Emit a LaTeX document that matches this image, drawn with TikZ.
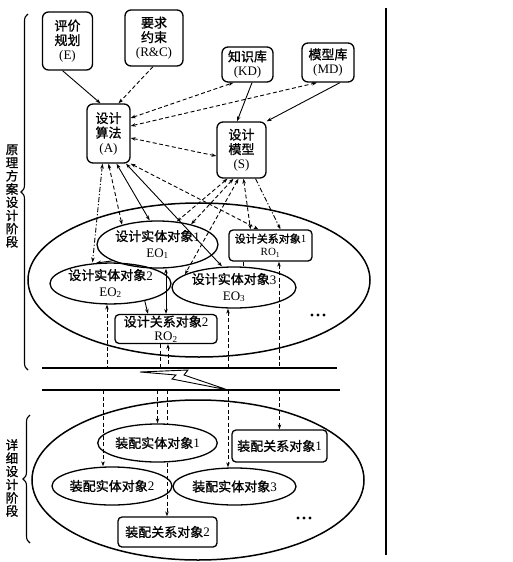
\documentclass[tikz,border=0pt]{standalone}
\usepackage{fontspec}
\setmainfont{Liberation Serif}
\newfontfamily\cjk[FakeBold=1.2]{Noto Sans CJK SC}
\newcommand\zh[1]{{\cjk #1}}
\usetikzlibrary{shapes.geometric,arrows.meta,decorations.pathreplacing}
\tikzset{
 box/.style={draw, line width=1.3pt, rounded corners=6pt, align=center, inner sep=1pt, font=\fontsize{13}{14.5}\selectfont},
 rbox/.style={draw, line width=1.3pt, rounded corners=4pt, align=center, inner sep=1pt, font=\fontsize{13}{14}\selectfont},
 eobj/.style={draw, ellipse, line width=1.3pt, inner sep=0pt, align=center, font=\fontsize{13}{16}\selectfont},
 big/.style={draw, ellipse, line width=1.5pt, inner sep=0pt},
 con/.style={line width=0.9pt},
 dsh/.style={con, dash pattern=on 4pt off 2.5pt},
 ddot/.style={con, dash pattern=on 5pt off 2pt on 1.2pt off 2pt},
 aend/.style={-{Stealth[length=5pt,width=3.5pt]}},
 aboth/.style={{Stealth[length=5pt,width=3.5pt]}-{Stealth[length=5pt,width=3.5pt]}},
 astart/.style={{Stealth[length=5pt,width=3.5pt]}-},
 vlab/.style={align=center, inner sep=0pt, font=\cjk\fontsize{12.5}{13.2}\selectfont},
 hline/.style={line width=1.6pt},
}
\begin{document}
\begin{tikzpicture}[x=1pt,y=-1pt]
\useasboundingbox (0,0) rectangle (512,562);
% phase frames
\node[big, minimum width=342pt, minimum height=154pt] (P1) at (199,280) {};
\node[big, minimum width=332pt, minimum height=160pt] (P2) at (198,480) {};
% labels and braces
\node[vlab] (lab1) at (12,196) {原\\理\\方\\案\\设\\计\\阶\\段};
\node[vlab] (lab2) at (12,478) {详\\细\\设\\计\\阶\\段};
\draw[line width=1.1pt, decorate, decoration={brace, amplitude=7pt}] (28,370) -- (28,14);
\draw[line width=1.1pt, decorate, decoration={brace, amplitude=7pt}] (30,543) -- (30,415);
% right rule
\coordinate (V1) at (386,8);
\coordinate (V2) at (386,555);
\draw[line width=2pt] (V1) -- (V2);
% top nodes
\node[box, minimum width=50pt, minimum height=58pt] (E) at (67.5,41) {\zh{评价}\\\zh{规划}\\(E)};
\node[box, minimum width=58pt, minimum height=56pt] (RC) at (154,38) {\zh{要求}\\\zh{约束}\\(R\&C)};
\node[box, minimum width=51pt, minimum height=35pt] (KD) at (247.5,64.5) {\zh{知识库}\\(KD)};
\node[box, minimum width=52pt, minimum height=39pt] (MD) at (328,62.5) {\zh{模型库}\\(MD)};
\node[box, minimum width=43pt, minimum height=59pt] (A) at (108.5,133.5) {\zh{设计}\\\zh{算法}\\(A)};
\node[box, minimum width=49pt, minimum height=56pt] (S) at (241.5,150) {\zh{设计}\\\zh{模型}\\(S)};
% phase 1 objects
\node[eobj, minimum width=121pt, minimum height=47pt] (EO1) at (157.5,244.5) {\zh{设计实体对象}1\\EO\textsubscript{1}};
\node[rbox, minimum width=83pt, minimum height=31pt, font=\fontsize{11}{13}\selectfont] (RO1) at (270.5,245.5) {\zh{设计关系对象}1\\RO\textsubscript{1}};
\node[eobj, minimum width=121pt, minimum height=39pt] (EO2) at (110.5,283.5) {\zh{设计实体对象}2\\EO\textsubscript{2}};
\node[eobj, minimum width=124pt, minimum height=39pt] (EO3) at (234,287.5) {\zh{设计实体对象}3\\EO\textsubscript{3}};
\node[rbox, minimum width=102pt, minimum height=28pt] (RO2) at (166,329) {\zh{设计关系对象}2\\RO\textsubscript{2}};
\fill (312,315) circle (1.6) (318,315) circle (1.6) (324,315) circle (1.6);
% phase 2 objects
\node[eobj, minimum width=115pt, minimum height=38pt] (AE1) at (157.5,443) {\zh{装配实体对象}1};
\node[rbox, minimum width=95pt, minimum height=32pt] (AR1) at (279.5,446) {\zh{装配关系对象}1};
\node[eobj, minimum width=120pt, minimum height=38pt] (AE2) at (112,486) {\zh{装配实体对象}2};
\node[eobj, minimum width=123pt, minimum height=37pt] (AE3) at (234.5,486.5) {\zh{装配实体对象}3};
\node[rbox, minimum width=99pt, minimum height=30pt] (AR2) at (167.5,532) {\zh{装配关系对象}2};
\fill (298,518) circle (1.6) (304,518) circle (1.6) (310,518) circle (1.6);
% interface lines
\coordinate (L1a) at (42,368);
\coordinate (L1b) at (337,368);
\coordinate (L2a) at (42,390);
\coordinate (L2b) at (340,390);
\draw[hline] (L1a) -- (L1b);
\draw[hline] (L2a) -- (L2b);
\draw[line width=0.9pt, fill=white] (140,372) -- (188,370) -- (184,375) -- (228,390) -- (172,379) -- (176,375) -- cycle;
% top connectors
\draw[con, aend] ([xshift=-5pt]E.south) -- ([xshift=-8pt]A.north);
\draw[dsh, aend] ([xshift=-1pt]RC.south) -- ([xshift=10pt]A.north);
\draw[dsh, aboth] ([yshift=15.5pt]A.east) -- ([xshift=-14pt]KD.south);
\draw[dsh, aboth] ([yshift=7.5pt]A.east) -- ([xshift=-11pt]MD.south);
\draw[dsh, aboth] ([yshift=-4.5pt]A.east) -- ([yshift=-6pt]S.west);
\draw[con, aend] ([xshift=4.5pt]KD.south) -- ([xshift=-4.5pt]S.north);
\draw[con, aend] ([xshift=12pt]MD.south) -- (S.north east);
% A to phase 1
\draw[ddot, aboth] ([xshift=-6pt]A.south) -- ([xshift=-18pt]EO2.north);
\draw[dsh, aboth] (A.south) -- (EO1.151);
\draw[con, aboth] ([xshift=8pt]A.south) -- (EO1.108);
\draw[con, aboth] ([xshift=17.5pt]A.south) -- ([xshift=-12pt]EO3.north);
\draw[dsh, aboth] (A.south east) -- ([xshift=-12pt]RO1.north);
% S to phase 1
\draw[dsh, aboth] ([xshift=-14pt]S.south) -- (EO1.50);
\draw[dsh, aboth] ([xshift=-8pt]S.south) -- (EO1.31);
\draw[dsh, aboth] ([xshift=-3pt]S.south) -- (EO3.165);
\draw[dsh, aboth] ([xshift=2pt]S.south) -- ([xshift=-20pt]RO1.north);
\draw[ddot, aend] ([xshift=14pt]S.south) -- ([xshift=10pt]RO1.north);
% inside phase 1
\draw[con, aend] (EO1.-160) -- (EO2.125);
\draw[con, aboth] ([xshift=8.5pt]EO1.south) -- (RO2.north);
\draw[con, aend] (EO2.-27) -- ([xshift=-18pt]RO2.north);
\draw[con] ([xshift=-27.5pt]RO1.south) -- ([xshift=9pt]EO3.north);
% phase 1 down to interface
\coordinate (u1) at ([xshift=-3.5pt]EO2.south);
\coordinate (u2) at ([xshift=-6pt]RO2.south);
\coordinate (u3) at ([xshift=2pt]RO2.south);
\coordinate (u4) at ([xshift=-6pt]EO3.south);
\coordinate (u5) at ([xshift=8.5pt]RO1.south);
\draw[dsh, astart] (u1) -- (u1 |- L1a);
\draw[dsh] (u2) -- (u2 |- L1a);
\draw[dsh, astart] (u3) -- (u3 |- L1a);
\draw[dsh, astart] (u4) -- (u4 |- L1a);
\draw[dsh, astart] (u5) -- (u5 |- L1a);
% interface down to phase 2
\coordinate (w1) at ([xshift=-9pt]AE2.north);
\coordinate (w2) at (AE1.north);
\coordinate (w3) at ([xshift=9.5pt]AE1.north);
\coordinate (w4) at ([xshift=-6.5pt]AE3.north);
\coordinate (w5) at (AR1.north);
\draw[dsh, aend] (w1 |- L2a) -- (w1);
\draw[dsh, aend] (w2 |- L2a) -- (w2);
\draw[dsh] (w3 |- L2a) -- (w3);
\draw[dsh, aend] (w4 |- L2a) -- (w4);
\draw[dsh, aend] (w5 |- L2a) -- (w5);
\draw[dsh, aend] ([xshift=9.5pt]AE1.south) -- ([xshift=-0.5pt]AR2.north);
\end{tikzpicture}
\end{document}
